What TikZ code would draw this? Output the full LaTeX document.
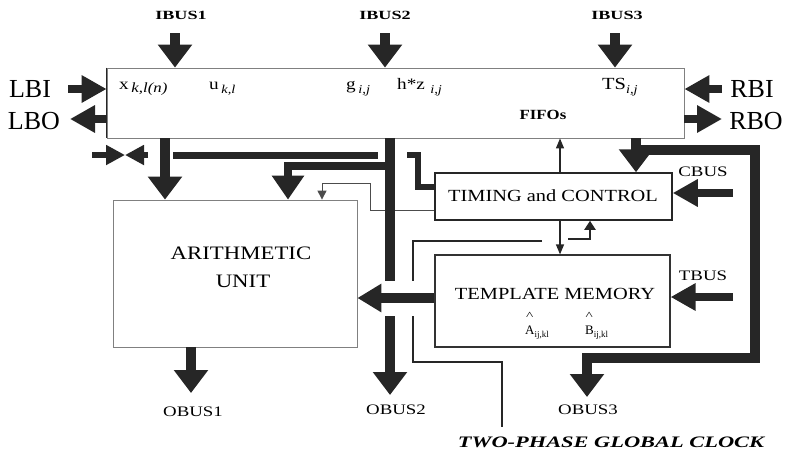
\documentclass[tikz,border=0pt]{standalone}
\usepackage{fontspec}
\setmainfont{Liberation Serif}
\newfontfamily\wA[FakeStretch=1.2]{Liberation Serif}
\newfontfamily\wB[FakeStretch=1.45]{Liberation Serif}
\newfontfamily\wC[FakeStretch=1.3]{Liberation Serif}
\newfontfamily\wD[FakeStretch=1.4]{Liberation Serif}
\usetikzlibrary{arrows.meta}
\newcommand\lowsub[1]{\raisebox{-4pt}{\fontsize{12}{12}\selectfont\itshape #1}}
\begin{document}
\begin{tikzpicture}[x=1pt,y=-1pt,
  lightbox/.style={draw=black!50, line width=0.8pt, inner sep=0pt},
  darkbox/.style={draw=black!85, line width=1.5pt, inner sep=0pt},
  busA/.style={draw=black!85, line width=10pt, line join=miter, -{Triangle[width=33pt,length=23pt]}},
  busB/.style={draw=black!85, line width=8pt, -{Triangle[width=26pt,length=25pt]}},
  busS/.style={draw=black!85, line width=6pt, -{Triangle[width=19pt,length=19pt]}},
  barline/.style={draw=black!85, line join=miter},
  thinarrow/.style={draw=black!85, line width=1.2pt, -{Triangle[width=8pt,length=10pt]}},
  biglab/.style={font=\fontsize{26}{26}\selectfont, inner sep=0pt},
  ibuslab/.style={font=\wB\bfseries\fontsize{12.5}{13}\selectfont, inner sep=0pt},
  obuslab/.style={font=\wC\fontsize{14.5}{15}\selectfont, inner sep=0pt},
  boxtext/.style={font=\wA\fontsize{17}{18}\selectfont, inner sep=0pt},
  fifotext/.style={font=\wA\fontsize{16}{16}\selectfont, inner sep=0pt, anchor=base west},
  hattext/.style={font=\fontsize{13}{13}\selectfont, inner sep=0pt, anchor=base west},
  caret/.style={font=\wD\fontsize{11}{11}\selectfont, inner sep=0pt, anchor=base},
]
\useasboundingbox (0,0) rectangle (787,453);

% boxes
\node[lightbox, minimum width=577pt, minimum height=70pt] (fifo) at (395.5,103) {};
\draw[black!85, line width=1.2pt] (fifo.north west) -- (fifo.south west);
\node[darkbox, minimum width=237pt, minimum height=47pt] (timing) at (553.5,196.5) {};
\node[draw=black!80, line width=1.2pt, inner sep=0pt, minimum width=235pt, minimum height=92pt] (tmem) at (552.5,301) {};
\node[lightbox, minimum width=244pt, minimum height=147pt] (au) at (235,273.5) {};

% box texts
\node[boxtext] (tctext) at (553,196) {TIMING and CONTROL};
\node[boxtext] (tmtext) at (555,294) {TEMPLATE MEMORY};
\node[hattext] (ahat) at (525,334) {A\raisebox{-3pt}{\fontsize{9}{9}\selectfont ij,kl}};
\node[hattext] (bhat) at (585,334) {B\raisebox{-3pt}{\fontsize{9}{9}\selectfont ij,kl}};
\node[caret] (acaret) at (529.7,319) {\textasciicircum};
\node[caret] (bcaret) at (589.3,319) {\textasciicircum};
\node[font=\wA\fontsize{19}{20}\selectfont, inner sep=0pt] (ar1) at (241,253) {ARITHMETIC};
\node[font=\wA\fontsize{19}{20}\selectfont, inner sep=0pt] (ar2) at (243,281) {UNIT};

% fifo texts
\node[fifotext] (tx) at (119,89) {x\,\raisebox{-3pt}{\fontsize{14}{14}\selectfont\itshape k,l(n)}};
\node[fifotext] (tu) at (209,89) {u\,\lowsub{k,l}};
\node[fifotext] (tg) at (346,89) {g\,\lowsub{i,j}};
\node[fifotext] (th) at (397,89) {h*z\,\,\lowsub{i,j}};
\node[fifotext, font=\wA\fontsize{17}{17}\selectfont] (tts) at (602,89) {TS\lowsub{i,j}};
\node[font=\wA\bfseries\fontsize{14}{14}\selectfont, inner sep=0pt] (tfifo) at (543,115) {FIFOs};

% side labels
\node[biglab] (lbi) at (30,89) {LBI};
\node[biglab] (lbo) at (34,121) {LBO};
\node[biglab] (rbi) at (752,89) {RBI};
\node[biglab] (rbo) at (756,121) {RBO};

% bus labels
\node[ibuslab] (ibus1) at (181,15) {IBUS1};
\node[ibuslab] (ibus2) at (385,15) {IBUS2};
\node[ibuslab] (ibus3) at (617,15) {IBUS3};
\node[obuslab] (obus1) at (193,412) {OBUS1};
\node[obuslab] (obus2) at (396,410) {OBUS2};
\node[obuslab] (obus3) at (588,410) {OBUS3};
\node[obuslab] (cbus) at (703,172) {CBUS};
\node[obuslab] (tbus) at (703,276) {TBUS};
\node[font=\wD\bfseries\itshape\fontsize{16}{16}\selectfont, inner sep=0pt] (clk) at (611,442) {TWO-PHASE GLOBAL CLOCK};

% column helpers
\coordinate (xA) at (165,0);
\coordinate (xB) at (390,0);
\coordinate (xC) at (288,0);
\coordinate (xD) at (636,0);
\coordinate (xE) at (560,0);
\coordinate (xF) at (322,0);
\coordinate (xG) at (590,0);
\coordinate (xO1) at (191,0);

% thin lines (under the bars)
\coordinate (t1) at (370,210);
\draw[draw=black!70, line width=1pt, -{Triangle[width=9pt,length=9pt]}]
  ([yshift=-13.5pt]timing.west) -- (t1) -- (370,183) -- (322,183) -- (au.north -| xF);
\draw[thinarrow] (timing.north -| xE) -- (fifo.south -| xE);
\draw[thinarrow] (timing.south -| xE) -- (tmem.north -| xE);
\coordinate (s1) at (568,239);
\draw[draw=black!85, line width=2pt, -{Triangle[width=11pt,length=9pt]}]
  (s1) -- (590,239) -- (timing.south -| xG);
\coordinate (ck1) at (542,241);
\coordinate (ck2) at (502,427);
\draw[draw=black!85, line width=1.8pt] (ck1) -- (413,241) -- (413,362) -- (502,362) -- (ck2);

% input bus arrows
\coordinate (ib1) at (175,33);
\coordinate (ib2) at (385,33);
\coordinate (ib3) at (615,33);
\draw[busA] (ib1) -- (ib1 |- fifo.north);
\draw[busA] (ib2) -- (ib2 |- fifo.north);
\draw[busA] (ib3) -- (ib3 |- fifo.north);

% side arrows
\coordinate (lbiS) at (68,89);
\coordinate (lboE) at (70,119);
\coordinate (rbiS) at (722,89);
\coordinate (rboE) at (722,119);
\draw[busB] (lbiS) -- (lbiS -| fifo.west);
\draw[busB] (lboE -| fifo.west) -- (lboE);
\draw[busB] (rbiS) -- (rbiS -| fifo.east);
\draw[busB] (rboE -| fifo.east) -- (rboE);

% bowtie
\coordinate (bw1) at (92,155);
\coordinate (bwm) at (125,155);
\coordinate (bw2) at (148,155);
\draw[busS] (bw1) -- (bwm);
\draw[busS] (bw2) -- (bwm);

% fifo -> AU
\draw[busA] (fifo.south -| xA) -- (au.north -| xA);
% horizontal bar
\coordinate (h1) at (173,155);
\coordinate (h2) at (378,155);
\draw[barline, line width=7pt] (h1) -- (h2);
% main vertical -> OBUS2
\coordinate (o2) at (390,395);
\draw[busA] (fifo.south -| xB) -- (o2);
% branch to AU
\coordinate (br) at (390,166);
\draw[busA, line width=8pt, -{Triangle[width=31pt,length=24pt]}] (br) -| (au.north -| xC);
% L-shape to timing
\coordinate (l1) at (407,154.5);
\draw[barline, line width=6pt] (l1) -- (418,154.5) |- ([yshift=9.5pt]timing.west);

% fifo -> timing, loop -> OBUS3
\draw[busA] (fifo.south -| xD) -- (timing.north -| xD);
\coordinate (lp) at (636,150);
\coordinate (o3) at (587,397);
\draw[busA] (lp) -- (755,150) -- (755,358) -- (587,358) -- (o3);

% CBUS, TBUS
\coordinate (cb) at (733,193);
\coordinate (tb) at (733,297);
\draw[busB] (cb) -- (cb -| timing.east);
\draw[busB] (tb) -- (tb -| tmem.east);

% AU -> OBUS1
\coordinate (o1) at (191,393);
\draw[busA] (au.south -| xO1) -- (o1);

% template -> AU (with white halo)
\fill[white] (382,281) rectangle (421,316);
\coordinate (tl) at ([yshift=3pt]tmem.west);
\draw[busA, line width=10pt, -{Triangle[width=27pt,length=24pt]}] (tl) -- (au.east |- tl);
\end{tikzpicture}
\end{document}
